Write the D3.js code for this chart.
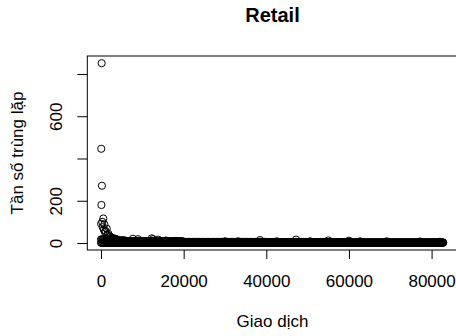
<!DOCTYPE html>
<html>
<head>
<meta charset="utf-8">
<script src="https://cdn.jsdelivr.net/npm/d3@7"></script>
<style>
  body { margin: 0; background: #fff; }
  text { font-family: "Liberation Sans", Arial, sans-serif; fill: #000; }
</style>
</head>
<body>
<div id="chart"></div>
<script>
// outliers near the first transactions
const outlierX = [150, 60, 220, 90, 560, 300, 30, 800, 970, 420, 1380, 700, 1770, 1100, 2180, 2600, 1500, 3000, 3500, 2000];
const outlierY = [851, 446, 271, 180, 116, 100, 91, 88, 52, 75, 68, 62, 44, 57, 28, 26, 38, 22, 20, 33];

// small peaks sticking out of the band
const bumpX = [7740, 8950, 12270, 12580, 13870, 15700, 17900, 30000, 33200, 38480, 42500, 47200, 50600, 55000, 60000, 62700, 69100, 77200, 82000];
const bumpY = [20, 18, 22, 18, 16, 12, 10, 8, 8, 14, 8, 16, 8, 12, 11, 8, 8, 7, 6];

// band: highest frequency seen in each block of 2000 transactions (lowest is 1)
const blockSize = 2000;
const blockMax = [17, 17, 12, 8, 8, 8, 8, 8, 8, 8,
                  5, 5, 5, 5, 5, 5, 5, 5, 5, 5,
                  4, 4, 4, 4, 4, 4, 4, 4, 4, 4,
                  3, 3, 3, 3, 3, 3, 3, 3, 3, 3, 3, 3];
const lastTx = 83000;
const sampleStep = 200;

const xTicks = [0, 20000, 40000, 60000, 80000];
const yTicks = [0, 200, 400, 600, 800];
const yTickLabels = ['0', '200', '', '600', ''];

const width = 456, height = 336;
const box = {left: 87.3, right: 457.7, top: 56, bottom: 250};

// build point list
let points = outlierX.map((x, i) => [x, outlierY[i]]);
d3.range(1, lastTx, sampleStep).forEach(x => {
  let m = blockMax[Math.floor(x / blockSize)];
  points.push([x, 1]);
  points.push([x, m]);
});
bumpX.forEach((x, i) => points.push([x, bumpY[i]]));

// R style 4% padding
function pad(ext) {
  let d = (ext[1] - ext[0]) * 0.04;
  return [ext[0] - d, ext[1] + d];
}

let x = d3.scaleLinear()
  .domain(pad([1, lastTx]))
  .range([box.left, box.right]);
let y = d3.scaleLinear()
  .domain(pad([1, d3.max(outlierY)]))
  .range([box.bottom, box.top]);

let svg = d3.select('#chart')
  .append('svg')
  .attr('width', width)
  .attr('height', height);

svg.append('g')
  .selectAll('circle')
  .data(points)
  .join('circle')
    .attr('cx', d => x(d[0]))
    .attr('cy', d => y(d[1]))
    .attr('r', 3.6)
    .attr('fill', 'none')
    .attr('stroke', '#000')
    .attr('stroke-width', 1);

svg.append('rect')
  .attr('x', box.left)
  .attr('y', box.top)
  .attr('width', box.right - box.left)
  .attr('height', box.bottom - box.top)
  .attr('fill', 'none')
  .attr('stroke', '#000')
  .attr('stroke-width', 1);

// x axis
let xAxis = svg.append('g')
  .attr('transform', `translate(0,${box.bottom})`)
  .call(d3.axisBottom(x).tickValues(xTicks).tickFormat(d3.format('d')).tickSize(9).tickPadding(2));
xAxis.select('.domain').remove();
xAxis.selectAll('text')
  .attr('y', 37.3).attr('dy', null)
  .style('font-size', '17px');

// y axis
let yAxis = svg.append('g')
  .attr('transform', `translate(${box.left},0)`)
  .call(d3.axisLeft(y).tickValues(yTicks).tickFormat((d, i) => yTickLabels[i]).tickSize(10));
yAxis.select('.domain').remove();
yAxis.selectAll('text')
  .attr('x', null).attr('dy', null)
  .attr('text-anchor', 'middle')
  .attr('transform', 'translate(-25.6,0) rotate(-90)')
  .style('font-size', '17px');
svg.selectAll('.tick line').attr('stroke', '#000');

svg.append('text')
  .attr('x', 272.5).attr('y', 22)
  .attr('text-anchor', 'middle')
  .style('font-size', '20px')
  .style('font-weight', 'bold')
  .text('Retail');

svg.append('text')
  .attr('x', 272.5).attr('y', 327)
  .attr('text-anchor', 'middle')
  .style('font-size', '17px')
  .text('Giao dịch');

svg.append('text')
  .attr('transform', `translate(22.5,${(box.top + box.bottom) / 2}) rotate(-90)`)
  .attr('text-anchor', 'middle')
  .style('font-size', '17px')
  .text('Tần số trùng lặp');
</script>
</body>
</html>
